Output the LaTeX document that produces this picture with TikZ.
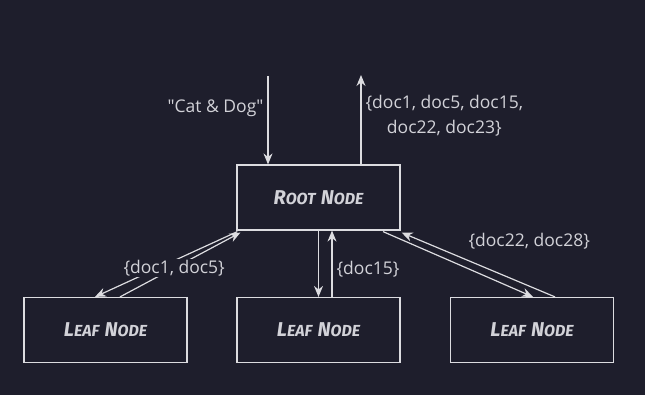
\documentclass[tikz,border=0pt]{standalone}
\usepackage{fontspec}
\newfontfamily\labelfont{Open Sans}
\newfontfamily\nodefont{Fira Sans}
\usepackage{tikz}
\usetikzlibrary{positioning,arrows.meta}
\definecolor{bgdark}{HTML}{1E1E2C}
\definecolor{inkline}{HTML}{DCDCE0}
\definecolor{inktext}{HTML}{D2D2D8}
\newcommand\capword[2]{{\fontsize{20}{20}\selectfont #1}{\fontsize{16}{16}\selectfont #2}}

\begin{document}
\begin{tikzpicture}[x=1pt, y=-1pt, line width=1.2pt, inkline,
  every node/.style={font=\labelfont\fontsize{17.5}{25}\selectfont, text=inktext, inner sep=1pt},
  box/.style={draw=inkline, fill=bgdark, minimum width=163pt, minimum height=65pt, inner sep=0pt, font=\nodefont\bfseries\itshape},
  flow/.style={-{Stealth[length=11pt,width=9pt]}}]
\fill[bgdark] (0,0) rectangle (645,395);
\node[box] (root) at (318.5,197.5) {\capword{R}{OOT}\hspace{3pt} \capword{N}{ODE}};
\node[box] (leafa) at (105.5,330) {\capword{L}{EAF}\hspace{3pt} \capword{N}{ODE}};
\node[box] (leafb) at (318.5,330) {\capword{L}{EAF}\hspace{3pt} \capword{N}{ODE}};
\node[box] (leafc) at (532,330) {\capword{L}{EAF}\hspace{3pt} \capword{N}{ODE}};
\coordinate (query) at (268,76); \coordinate (result) at (361,75);
\draw[flow] (query) -- node[pos=0.36, anchor=east, xshift=-3pt] (qlabel) {"Cat \& Dog"} ([xshift=-50.5pt]root.north);
\draw[flow] ([xshift=42.5pt]root.north) -- node[pos=0.54, anchor=west, xshift=3pt, align=center] (rlabel) {\{doc1, doc5, doc15,\\doc22, doc23\}} (result);
\draw[flow] ([xshift=1pt,yshift=-1pt]root.south west) -- ([xshift=-10.5pt]leafa.north);
\draw[flow] ([xshift=14.5pt]leafa.north) -- node[pos=0.45, fill=bgdark] (alabel) {\{doc1, doc5\}} ([xshift=4pt,yshift=-2pt]root.south west);
\draw[flow] (root.south) -- (leafb.north);
\draw[flow] ([xshift=13.5pt]leafb.north) -- node[pos=0.42, anchor=west, xshift=3pt] (blabel) {\{doc15\}} ([xshift=13.5pt]root.south);
\draw[flow] ([xshift=64.5pt,yshift=-1pt]root.south) -- ([xshift=1pt]leafc.north);
\draw[flow] ([xshift=23pt]leafc.north) -- node[pos=0.6, anchor=south west, xshift=4pt, yshift=7pt] (clabel) {\{doc22, doc28\}} ([xshift=1pt,yshift=-2pt]root.south east);
\end{tikzpicture}
\end{document}
